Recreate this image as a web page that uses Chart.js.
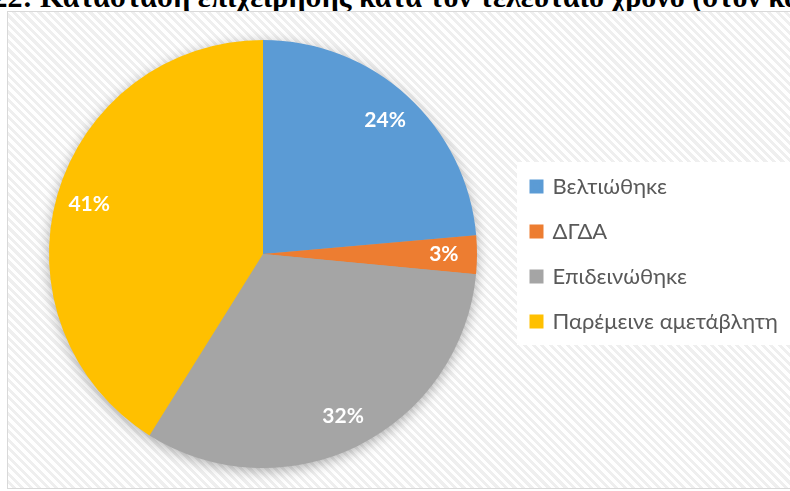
<!DOCTYPE html>
<html>
<head>
<meta charset="utf-8">
<script src="https://cdn.jsdelivr.net/npm/chart.js@4"></script>
<style>
html,body{margin:0;padding:0;background:#fff;overflow:hidden;width:790px;height:491px;position:relative;}
.ttl{position:absolute;top:-18px;font-family:"Liberation Serif","Times New Roman",serif;font-weight:bold;font-size:30px;line-height:30px;white-space:nowrap;color:#000;}
#t1{right:750px;}
#t2{left:40px;}
#frame{position:absolute;left:7px;top:11px;width:840px;height:476px;border:1px solid #d9d9d9;overflow:hidden;
  background:repeating-linear-gradient(45deg,#ffffff 0px,#ffffff 3px,#efefef 3px,#efefef 6px);}
#c{position:absolute;left:0;top:0;}
</style>
</head>
<body>
<div class="ttl" id="t1">Γράφημα 22:&nbsp;</div>
<div class="ttl" id="t2">Κατάσταση επιχείρησης κατά τον τελευταίο χρόνο (στον καιρό της κρίσης)</div>
<div id="frame"><canvas id="c" width="820" height="476"></canvas></div>
<script>
// ---- data ----
const categories = ['Βελτιώθηκε', 'ΔΓΔΑ', 'Επιδεινώθηκε', 'Παρέμεινε αμετάβλητη'];
const values = [23.6, 2.9, 32.4, 41.1];
const sliceColors = ['#5B9BD5', '#ED7D31', '#A5A5A5', '#FFC000'];

// ---- style / layout ----
const legendFontSize = 22;
const labelFontSize = 21;
const legendPad = 23;
const boxSize = 10;
const boxStroke = 4;
const FONT = 'Lato, "Open Sans", "Noto Sans", sans-serif';

const canvas = document.getElementById('c');
const mctx = canvas.getContext('2d');
mctx.font = legendFontSize + 'px ' + FONT;
const maxText = Math.max(...categories.map(t => mctx.measureText(t).width));
const squareLeft = 521.5;          // target visible legend square left (canvas px)
const legendLeft = squareLeft - legendPad + boxStroke / 2;
const pieCenterX = 255;            // target pie centre in canvas px
const padLeft = 2 * pieCenterX - legendLeft;
const legendWidth = legendPad + boxSize + legendFontSize / 2 + maxText + 10;
const padRight = canvas.width - legendLeft - legendWidth;

const pieShadow = {
  id: 'pieShadow',
  beforeDatasetsDraw(chart) {
    const arc = chart.getDatasetMeta(0).data[0];
    if (!arc) return;
    const {x, y, outerRadius} = arc.getProps(['x', 'y', 'outerRadius'], true);
    const ctx = chart.ctx;
    ctx.save();
    ctx.shadowColor = 'rgba(0,0,0,0.35)';
    ctx.shadowBlur = 14;
    ctx.shadowOffsetY = 3;
    ctx.beginPath();
    ctx.arc(x, y, outerRadius - 1, 0, Math.PI * 2);
    ctx.fillStyle = '#a5a5a5';
    ctx.fill();
    ctx.restore();
  }
};

const legendBg = {
  id: 'legendBg',
  beforeDraw(chart) {
    const L = chart.legend;
    const ctx = chart.ctx;
    const cy = (L.top + L.bottom) / 2;
    ctx.save();
    ctx.fillStyle = '#ffffff';
    ctx.fillRect(L.left + legendPad - boxStroke / 2 - 12.5, cy - 92, chart.width, 183);
    ctx.restore();
  }
};

const sliceLabels = {
  id: 'sliceLabels',
  afterDatasetsDraw(chart) {
    const meta = chart.getDatasetMeta(0);
    const data = chart.data.datasets[0].data;
    const total = data.reduce((a, b) => a + b, 0);
    const ctx = chart.ctx;
    ctx.save();
    ctx.font = 'bold ' + labelFontSize + 'px ' + FONT;
    ctx.fillStyle = '#ffffff';
    ctx.textAlign = 'center';
    ctx.textBaseline = 'middle';
    meta.data.forEach((arc, i) => {
      const {x, y, startAngle, endAngle, outerRadius} =
        arc.getProps(['x', 'y', 'startAngle', 'endAngle', 'outerRadius'], true);
      const mid = (startAngle + endAngle) / 2;
      const r = outerRadius * 0.845;
      ctx.fillText(Math.round(data[i] / total * 100) + '%', x + Math.cos(mid) * r, y + Math.sin(mid) * r);
    });
    ctx.restore();
  }
};

new Chart(canvas, {
  type: 'pie',
  data: {
    labels: categories,
    datasets: [{
      data: values,
      backgroundColor: sliceColors,
      borderWidth: 0,
      hoverOffset: 0,
      offset: 0
    }]
  },
  options: {
    responsive: false,
    animation: false,
    events: [],
    layout: {padding: {top: 28, bottom: 20, left: padLeft, right: padRight}},
    plugins: {
      tooltip: {enabled: false},
      title: {display: false},
      legend: {
        position: 'right',
        align: 'center',
        labels: {
          boxWidth: boxSize,
          boxHeight: boxSize,
          padding: legendPad,
          color: '#595959',
          font: {family: FONT, size: legendFontSize},
          generateLabels(chart) {
            const items = Chart.overrides.pie.plugins.legend.labels.generateLabels(chart);
            items.forEach(it => { it.lineWidth = boxStroke; it.strokeStyle = it.fillStyle; });
            return items;
          }
        }
      }
    }
  },
  plugins: [legendBg, pieShadow, sliceLabels]
});
</script>
</body>
</html>
